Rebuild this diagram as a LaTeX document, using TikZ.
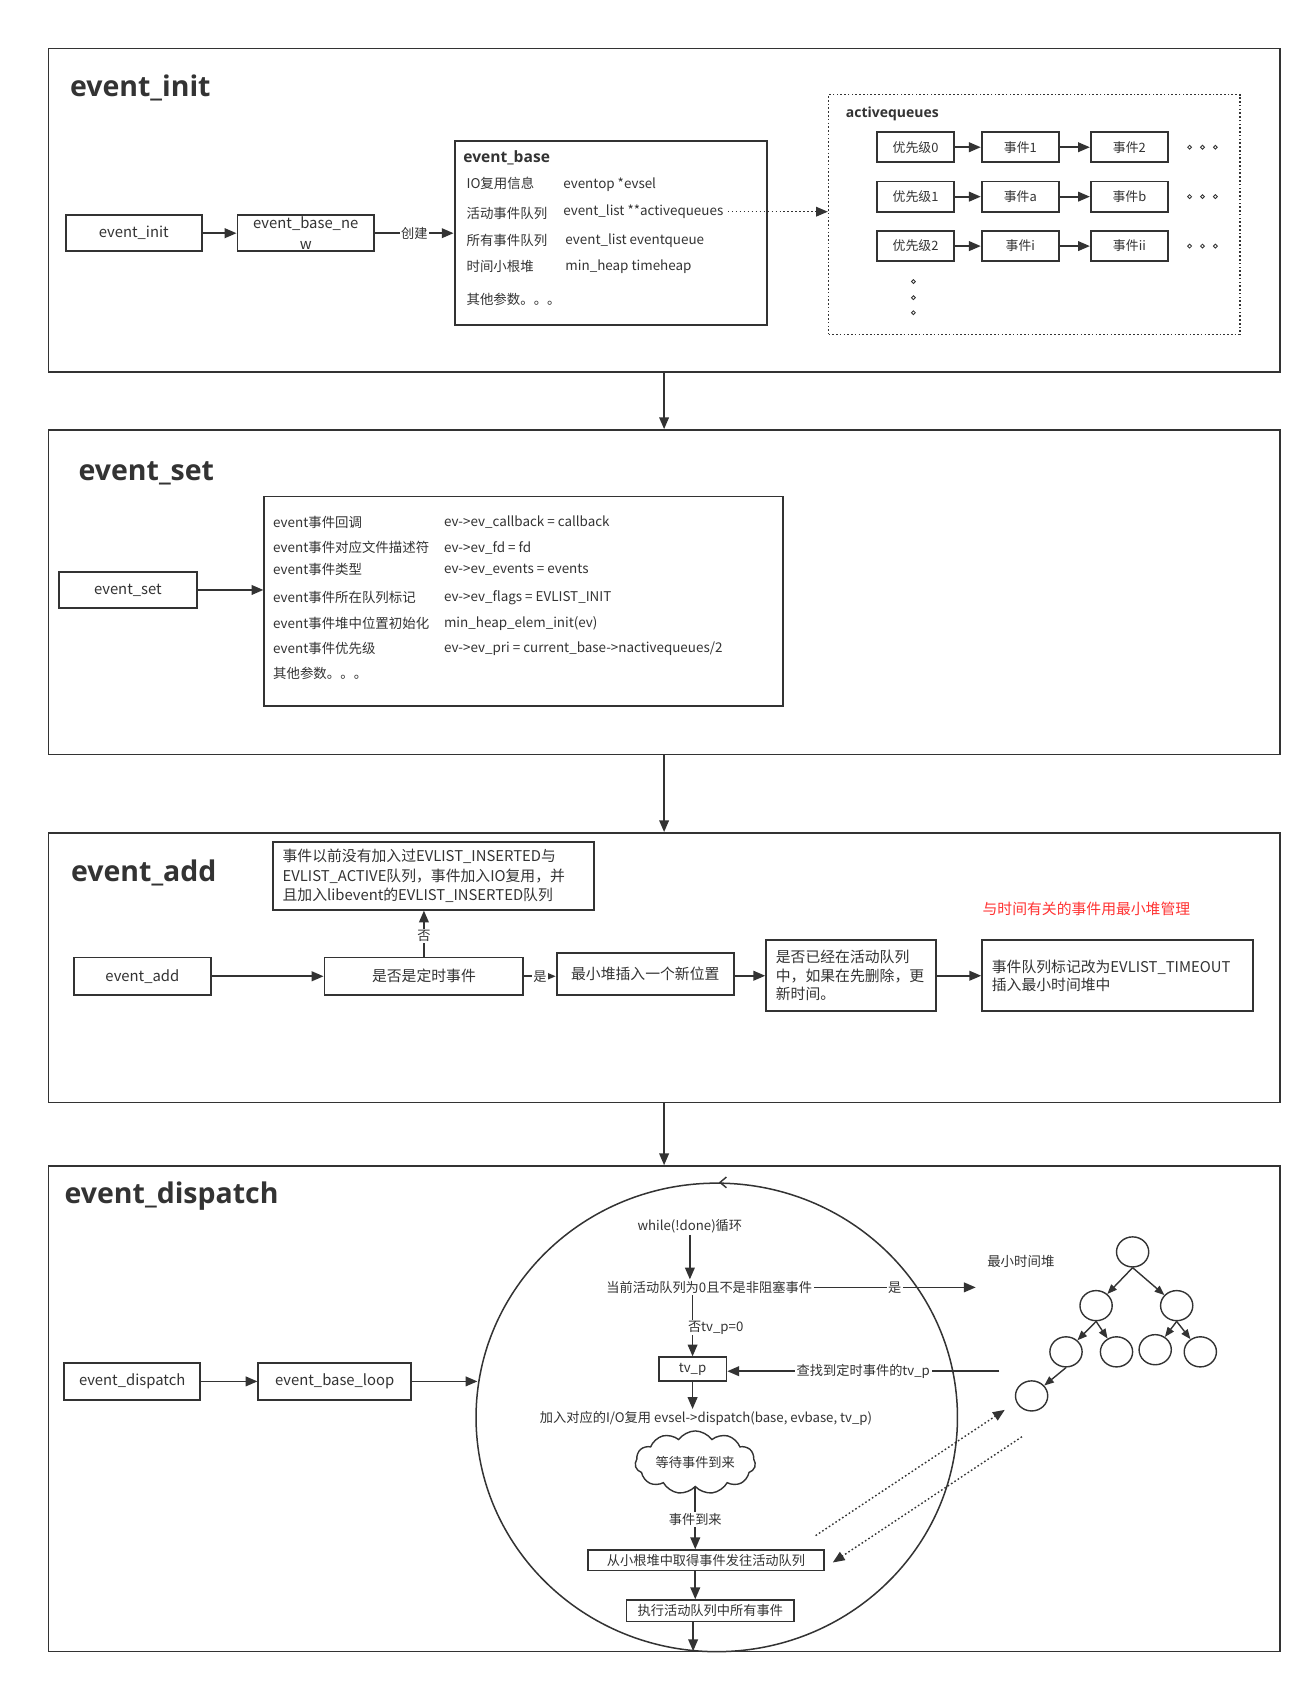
\documentclass[tikz,border=0pt]{standalone}
\usepackage{fontspec}
\setmainfont{Noto Sans CJK SC}
\newfontfamily\titlefont{Open Sans}
\usetikzlibrary{arrows.meta,shapes.geometric,shapes.symbols,calc}
\definecolor{lc}{HTML}{333333}
\definecolor{tc}{HTML}{333333}
\definecolor{rc}{HTML}{FF3333}
\begin{document}
\begin{tikzpicture}[x=1pt,y=-1pt,
  sec/.style={draw=lc, line width=1.4pt, rectangle, inner sep=0pt},
  ttl/.style={anchor=west, text=tc, inner sep=0pt, font=\titlefont\bfseries\fontsize{26.5}{30}\selectfont},
  bx/.style={draw=lc, line width=1.8pt, fill=white, rectangle, inner sep=0pt, text=tc, align=center, font=\fontsize{13.8}{19}\selectfont},
  sbx/.style={bx, line width=1.6pt, minimum width=72pt, minimum height=28pt, font=\fontsize{12}{14}\selectfont},
  lbl/.style={anchor=west, inner sep=0pt, text=tc, font=\fontsize{12.5}{14}\selectfont},
  ilbl/.style={inner sep=1.5pt, fill=white, text=tc, font=\fontsize{12.3}{14}\selectfont},
  arr/.style={draw=lc, line width=1.6pt, -{Triangle[length=11pt,width=9pt]}},
  tarr/.style={draw=lc, line width=1.3pt, -{Triangle[length=9pt,width=7pt]}},
  darr/.style={draw=lc, line width=1.3pt, dash pattern=on 1.5pt off 2.2pt, -{Triangle[length=11pt,width=9pt]}},
  tn/.style={ellipse, draw=lc, line width=1.3pt, minimum width=30pt, minimum height=28pt, inner sep=0pt},
  dot/.style={circle, draw=lc, line width=0.8pt, minimum size=3.6pt, inner sep=0pt}
]
\useasboundingbox (0,0) rectangle (1220,1567.1);
\fill[white] (0,0) rectangle (1220,1567.1);

% ================= Section 1: event_init =================
\node[sec, minimum width=1146pt, minimum height=301pt] (s1) at (618,195.5) {};
\node[ttl] (t1) at (65,82) {event\_init};
\node[bx, minimum width=127pt, minimum height=34pt] (ei) at (124.5,217) {event\_init};
\node[bx, minimum width=127pt, minimum height=34pt] (ebn) at (284.5,217) {event\_base\_ne\\w};
\node[bx, minimum width=291pt, minimum height=171pt] (eb) at (568.5,216.5) {};
\node[lbl, font=\titlefont\bfseries\fontsize{14.5}{16}\selectfont] (ebt) at (431,147) {event\_base};
\node[lbl] (ebl1) at (434,171) {IO复用信息};
\node[lbl] (ebv1) at (524,172) {eventop *evsel};
\node[lbl] (ebl2) at (434,199) {活动事件队列};
\node[lbl] (ebv2) at (524,197) {event\_list **activequeues};
\node[lbl] (ebl3) at (434,224) {所有事件队列};
\node[lbl] (ebv3) at (526,224) {event\_list eventqueue};
\node[lbl] (ebl4) at (434,248) {时间小根堆};
\node[lbl] (ebv4) at (526,248) {min\_heap timeheap};
\node[lbl] (ebl5) at (434,279) {其他参数。。。};
\draw[arr] (ei) -- (ebn);
\draw[arr] (ebn.east) -- node[ilbl, inner sep=1pt] {创建} (ebn.east -| eb.west);

\node[draw=lc, line width=1.3pt, dash pattern=on 1.5pt off 2pt, rectangle, inner sep=0pt,
      minimum width=383pt, minimum height=223pt] (aq) at (962.5,199.5) {};
\node[lbl, font=\titlefont\bfseries\fontsize{13}{14}\selectfont] (aqt) at (787,106) {activequeues};
\draw[darr, shorten <=4pt] (ebv2.east) -- (ebv2.east -| aq.west);

\node[sbx] (p0) at (852,137) {优先级0};
\node[sbx] (e1) at (949.5,137) {事件1};
\node[sbx] (e2) at (1051,137) {事件2};
\node[sbx] (p1) at (852,183) {优先级1};
\node[sbx] (ea) at (949.5,183) {事件a};
\node[sbx] (eb2) at (1051,183) {事件b};
\node[sbx] (p2) at (852,229) {优先级2};
\node[sbx] (ex) at (949.5,229) {事件i};
\node[sbx] (exx) at (1051,229) {事件ii};
\draw[arr] (p0) -- (e1); \draw[arr] (e1) -- (e2);
\draw[arr] (p1) -- (ea); \draw[arr] (ea) -- (eb2);
\draw[arr] (p2) -- (ex); \draw[arr] (ex) -- (exx);
\foreach \yy in {137,183,229} {
  \foreach \xx in {1107,1119,1131} { \node[dot] at (\xx,\yy) {}; }
}
\foreach \yy in {262,277,291} { \node[dot] at (850,\yy) {}; }

% ================= Section 2: event_set =================
\node[sec, minimum width=1146pt, minimum height=302pt] (s2) at (618,551) {};
\node[ttl] (t2) at (73,440) {event\_set};
\node[bx, minimum width=128pt, minimum height=34pt] (es) at (119,549) {event\_set};
\node[bx, minimum width=483pt, minimum height=195pt] (setb) at (487.5,559.5) {};
\draw[arr] (es.east) -- (es.east -| setb.west);
\node[lbl] (sl1) at (254,486) {event事件回调};
\node[lbl] (sv1) at (413,486) {ev->ev\_callback = callback};
\node[lbl] (sl2) at (254,509) {event事件对应文件描述符};
\node[lbl] (sv2) at (413,509.5) {ev->ev\_fd = fd};
\node[lbl] (sl3) at (254,530) {event事件类型};
\node[lbl] (sv3) at (413,530) {ev->ev\_events = events};
\node[lbl] (sl4) at (254,556) {event事件所在队列标记};
\node[lbl] (sv4) at (413,556) {ev->ev\_flags = EVLIST\_INIT};
\node[lbl] (sl5) at (254,580) {event事件堆中位置初始化};
\node[lbl] (sv5) at (413,580) {min\_heap\_elem\_init(ev)};
\node[lbl] (sl6) at (254,603.5) {event事件优先级};
\node[lbl] (sv6) at (413,603.5) {ev->ev\_pri = current\_base->nactivequeues/2};
\node[lbl] (sl7) at (254,627) {其他参数。。。};

% ================= Section 3: event_add =================
\node[sec, minimum width=1146pt, minimum height=251pt] (s3) at (618,900.5) {};
\node[ttl] (t3) at (66,812) {event\_add};
\node[bx, align=left, text width=281pt, inner xsep=9pt, minimum height=63pt, font=\fontsize{13.8}{17.8}\selectfont] (tb) at (403.5,815)
  {事件以前没有加入过EVLIST\_INSERTED与\\EVLIST\_ACTIVE队列，事件加入IO复用，并\\且加入libevent的EVLIST\_INSERTED队列};
\node[bx, minimum width=127pt, minimum height=35pt] (ead) at (132.5,908.5) {event\_add};
\node[bx, minimum width=185pt, minimum height=35pt] (dec) at (394.5,908.5) {是否是定时事件};
\node[bx, minimum width=165pt, minimum height=39pt] (mh) at (600.5,906.5) {最小堆插入一个新位置};
\node[bx, align=left, text width=140pt, inner xsep=9pt, minimum height=66pt, font=\fontsize{13.8}{17.3}\selectfont] (chk) at (792,908)
  {是否已经在活动队列\\中，如果在先删除，更\\新时间。};
\node[bx, align=left, text width=234pt, inner xsep=9pt, minimum height=66pt, font=\fontsize{13.8}{17}\selectfont] (tmo) at (1040,908)
  {事件队列标记改为EVLIST\_TIMEOUT\\插入最小时间堆中};
\node[inner sep=0pt, text=rc, font=\fontsize{13.8}{16}\selectfont] (red) at (1011,846) {与时间有关的事件用最小堆管理};
\draw[arr] (ead.east) -- (ead.east -| dec.west);
\draw[arr] (dec.east) -- node[ilbl, inner sep=1pt] {是} (dec.east -| mh.west);
\draw[arr] (mh.east |- chk.west) -- (chk.west);
\draw[arr] (chk) -- (tmo);
\draw[arr] (dec.north) -- node[ilbl, inner sep=1pt, pos=0.45] {否} (dec.north |- tb.south);

% ================= Section 4: event_dispatch =================
\node[sec, minimum width=1146pt, minimum height=452pt] (s4) at (618,1311) {};
\node[ttl] (t4) at (60,1113) {event\_dispatch};
\node[bx, minimum width=127pt, minimum height=34pt] (ed) at (123,1285.5) {event\_dispatch};
\node[bx, minimum width=142pt, minimum height=34pt] (ebl) at (311.5,1285.5) {event\_base\_loop};
\draw[arr] (ed) -- (ebl);

\node[ellipse, draw=lc, line width=1.4pt, minimum width=448pt, minimum height=436pt, inner sep=0pt] (loop) at (667,1319) {};
\draw[arr] (ebl.east) -- ($(ebl.east -| loop.west)+(2,0)$);
\draw[lc, line width=1.3pt] ($(loop.north)+(9,-5)$) -- ($(loop.north)+(3,0)$) -- ($(loop.north)+(9,5)$);

\node[ilbl] (wh) at (642,1141) {while(!done)循环};
\node[ilbl] (cur) at (660,1198) {当前活动队列为0且不是非阻塞事件};
\draw[arr] (wh.south) -- (wh.south |- cur.north);
\coordinate (yesend) at (908,1198);
\draw[arr] (cur.east) -- node[ilbl, pos=0.5] {是} (yesend);
\node[bx, line width=1.6pt, minimum width=63pt, minimum height=22pt, font=\fontsize{12.3}{14}\selectfont] (tvp) at (644.5,1274) {tv\_p};
\draw[arr] (cur.south -| tvp.north) -- (tvp.north);
\node[ilbl, inner sep=1pt] (notv) at (666,1235.5) {否tv\_p=0};
\coordinate (findst) at (930,1276);
\draw[arr] (findst) -- node[ilbl, pos=0.5] {查找到定时事件的tv\_p} (findst -| tvp.east);
\node[ilbl] (disp) at (657,1319.5) {加入对应的I/O复用 evsel->dispatch(base, evbase, tv\_p)};
\draw[arr] (tvp.south) -- (tvp.south |- disp.north);
\node[cloud, cloud puffs=11, cloud puff arc=110, aspect=2.3, draw=lc, line width=1.3pt, fill=white, inner sep=0pt,
      minimum width=112pt, minimum height=52pt, text=tc, font=\fontsize{12.3}{14}\selectfont] (cl) at (647,1361) {等待事件到来};
\node[bx, line width=1.6pt, minimum width=220pt, minimum height=19pt, font=\fontsize{12.3}{14}\selectfont] (fetch) at (657,1452) {从小根堆中取得事件发往活动队列};
\node[bx, line width=1.6pt, minimum width=156pt, minimum height=20pt, font=\fontsize{12.3}{14}\selectfont] (exec) at (661,1499) {执行活动队列中所有事件};
\draw[arr] (cl.south) -- node[ilbl, pos=0.52] {事件到来} (cl.south |- fetch.north);
\draw[arr] (fetch.south -| cl.south) -- (exec.north -| cl.south);
\coordinate (bot) at (645,1536.5);
\draw[arr] (exec.south -| bot) -- (bot);

% min time heap
\node[lbl, anchor=center] (mth) at (950,1174) {最小时间堆};
\node[tn] (r) at (1054,1165) {};
\node[tn] (a) at (1020,1215) {};
\node[tn] (b) at (1095,1215) {};
\node[tn] (c) at (992,1258) {};
\node[tn] (d) at (1039,1258) {};
\node[tn] (e) at (1075,1256) {};
\node[tn] (f) at (1117,1258) {};
\node[tn] (g) at (960,1299) {};
\draw[tarr] (r.south) -- (a);
\draw[tarr] (r.south) -- (b);
\draw[tarr] (a.south) -- (c);
\draw[tarr] (a.south) -- (d);
\draw[tarr] (b.south) -- (e);
\draw[tarr] (b.south) -- (f);
\draw[tarr] (c.south) -- (g);

% dotted arrows
\coordinate (d1s) at (759,1429);
\coordinate (d1e) at (935,1312);
\coordinate (d2s) at (951,1337);
\coordinate (d2e) at (775,1454);
\draw[darr] (d1s) -- (d1e);
\draw[darr] (d2s) -- (d2e);

% section connectors
\draw[arr] (s1.south) -- (s2.north);
\draw[arr] (s2.south) -- (s3.north);
\draw[arr] (s3.south) -- (s4.north);
\end{tikzpicture}
\end{document}
